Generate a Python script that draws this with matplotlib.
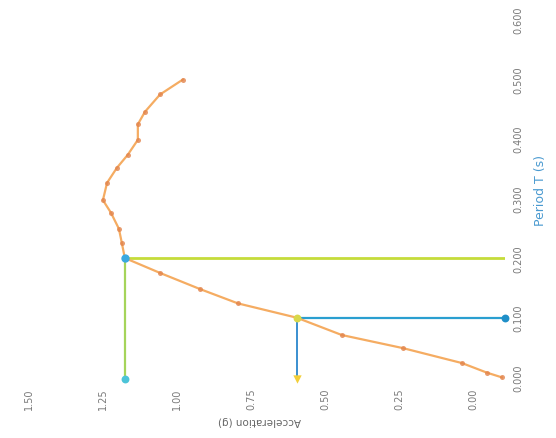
import matplotlib
matplotlib.use("Agg")
import matplotlib.pyplot as plt

# Curve values (bottom axis value, right axis period)
curve_value = [0.980, 1.057, 1.108, 1.132, 1.132, 1.166, 1.203, 1.236, 1.250, 1.223,
               1.196, 1.186, 1.176, 1.057, 0.922, 0.794, 0.595, 0.443, 0.236, 0.037,
               -0.047, -0.098]
curve_period = [0.499, 0.474, 0.445, 0.424, 0.398, 0.373, 0.351, 0.326, 0.297, 0.276,
                0.249, 0.225, 0.200, 0.175, 0.148, 0.124, 0.100, 0.071, 0.049, 0.024,
                0.008, 0.0]

# Highlighted points
p1_value, p1_period = 1.176, 0.200   # green / cyan
p2_value, p2_period = 0.595, 0.100   # blue / yellow

value_ticks = [1.5, 1.25, 1.0, 0.75, 0.5, 0.25, 0.0]
period_ticks = [0.0, 0.1, 0.2, 0.3, 0.4, 0.5, 0.6]

value_min, value_max = -0.108, 1.547
period_min, period_max = -0.003, 0.634

fig = plt.figure(figsize=(5.56, 4.39), dpi=100)
ax = fig.add_axes([0.027, 0.134, 0.881, 0.866])

ax.set_xlim(value_max, value_min)
ax.set_ylim(period_min, period_max)

# drop lines for point 1
ax.plot([p1_value, value_min], [p1_period, p1_period], color="#c5dc3a", lw=2.0, zorder=2)
ax.plot([p1_value, p1_value], [p1_period, period_min], color="#a5d45a", lw=1.6, zorder=2)
# drop lines for point 2
ax.plot([p2_value, value_min], [p2_period, p2_period], color="#2a9fd0", lw=1.6, zorder=2)
ax.plot([p2_value, p2_value], [p2_period, period_min], color="#3a8fd0", lw=1.4, zorder=2)

# main curve
ax.plot(curve_value, curve_period, color="#f5ac62", lw=1.6, zorder=3)
ax.scatter(curve_value, curve_period, s=13, color="#e2844c", alpha=0.8, zorder=4, linewidths=0)

# endpoint markers
ax.scatter([p1_value], [p1_period], s=36, color="#3aa8e0", zorder=5, linewidths=0)
ax.scatter([p1_value], [period_min], s=32, color="#4cc4d8", zorder=5, linewidths=0, clip_on=False)
ax.scatter([p2_value], [p2_period], s=32, color="#d8d84a", zorder=5, linewidths=0)
ax.scatter([value_min], [p2_period], s=32, color="#1f8fc8", zorder=5, linewidths=0, clip_on=False)
ax.scatter([p2_value], [period_min], s=36, color="#f2cf3a", marker="v", zorder=5,
           linewidths=0, clip_on=False)

for s in ax.spines.values():
    s.set_visible(False)

ax.set_xticks(value_ticks)
ax.set_xticklabels([f"{v:.2f}" for v in value_ticks], rotation=90, fontsize=7, color="#7a7a7a")
ax.yaxis.tick_right()
ax.set_yticks(period_ticks)
ax.set_yticklabels([f"{v:.3f}" for v in period_ticks], rotation=90, fontsize=7,
                   color="#7a7a7a", va="center")
ax.tick_params(length=0, pad=6)

ax.set_xlabel("Acceleration (g)", fontsize=7.5, color="#666666", rotation=180, labelpad=4)
ax.yaxis.set_label_position("right")
ax.set_ylabel("Period T (s)", fontsize=9, color="#4a9ad0", rotation=90, labelpad=8)

fig.savefig("out.png", dpi=100)
